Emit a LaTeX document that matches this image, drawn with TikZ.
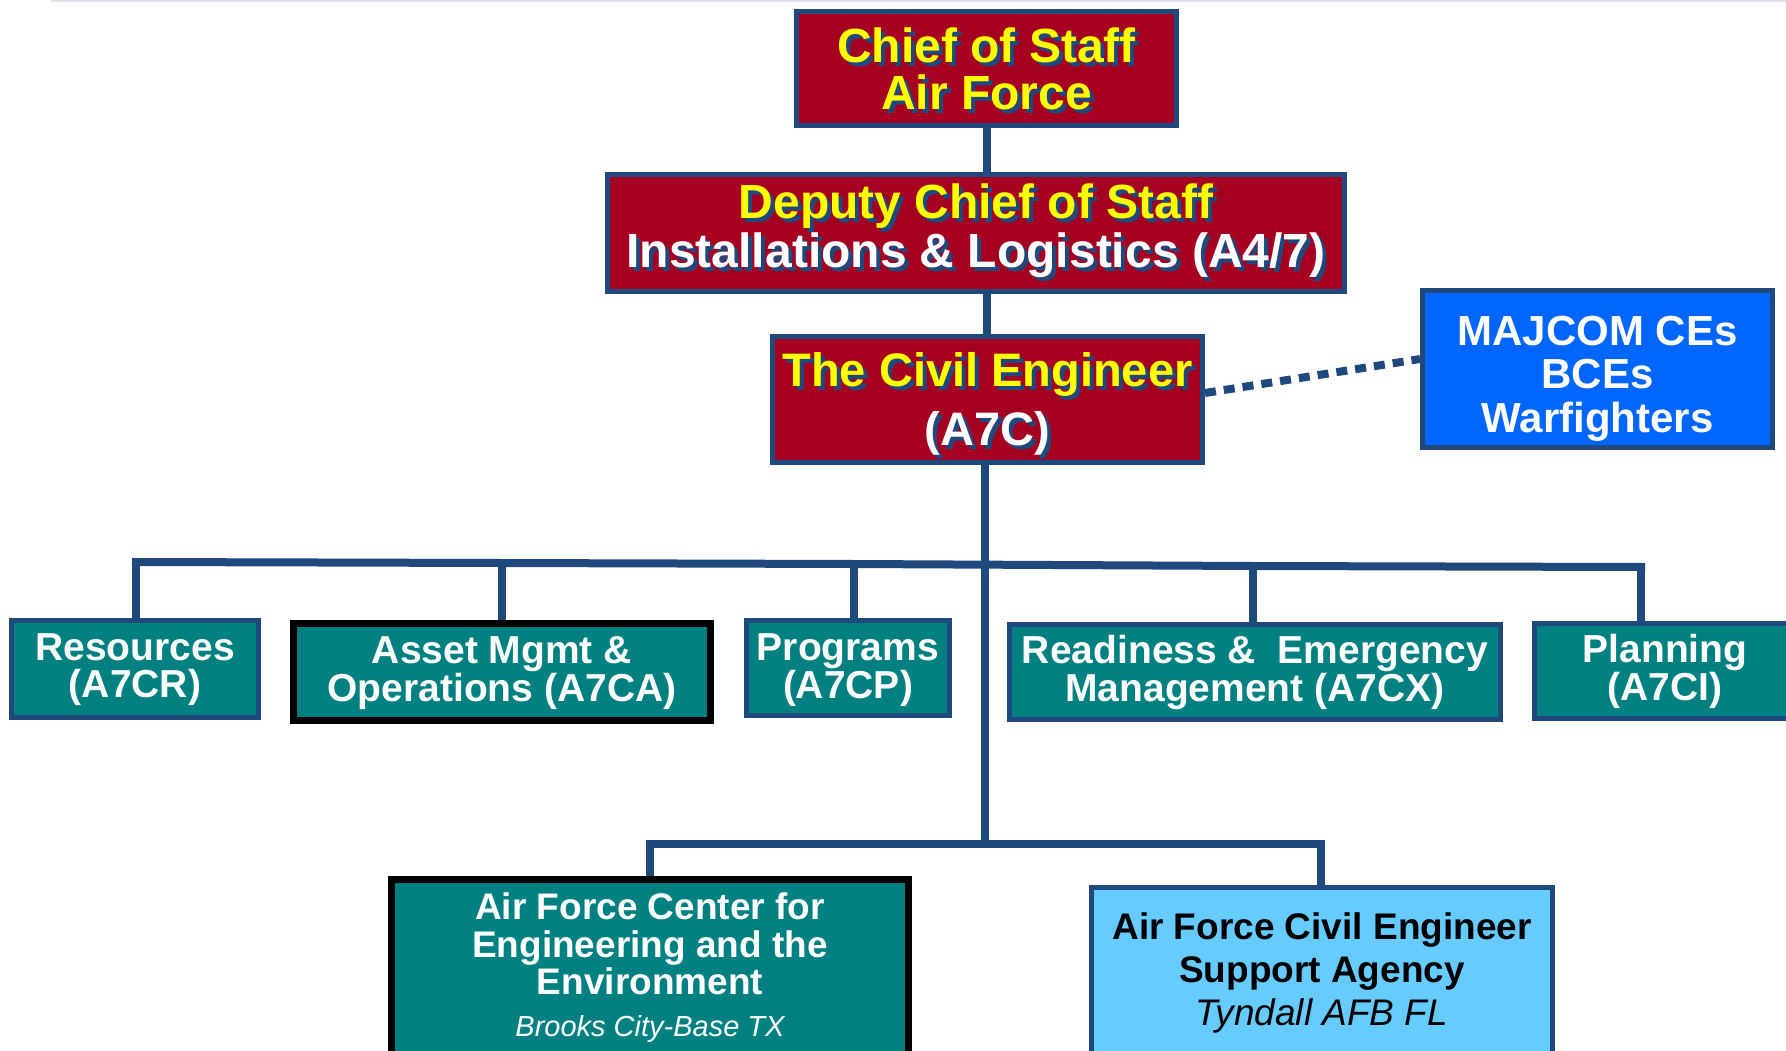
\documentclass[tikz,border=0pt]{standalone}
\usepackage{fontspec}
\setmainfont{Liberation Sans}
\definecolor{afnavy}{RGB}{31,73,125}
\definecolor{afred}{RGB}{165,0,33}
\definecolor{afteal}{RGB}{0,128,128}
\definecolor{afblue}{RGB}{0,102,255}
\definecolor{aflight}{RGB}{102,204,255}
\definecolor{afyellow}{RGB}{255,255,0}
\definecolor{afrule}{RGB}{221,227,238}
\newcommand{\shtext}[2]{\makebox[0pt][l]{\hspace{4pt}\raisebox{-4pt}{\textcolor{afnavy}{#2}}}\textcolor{#1}{#2}}
\begin{document}
\begin{tikzpicture}[x=1pt,y=-1pt,
  box/.style={draw=afnavy, line width=5pt, inner sep=0pt, align=center, text=white},
  redbox/.style={box, fill=afred},
  tealbox/.style={box, fill=afteal, font=\fontsize{39}{36.5}\selectfont\bfseries, text height=58pt, text depth=0pt},
  blackbox/.style={tealbox, draw=black, line width=7pt},
  link/.style={draw=afnavy, line width=8pt},
  dotlink/.style={draw=afnavy, line width=8pt, dash pattern=on 11pt off 8pt}]
\useasboundingbox (0,0) rectangle (1786,1051);
\clip (0,0) rectangle (1786,1051);
\fill[white] (0,0) rectangle (1786,1051);
\draw[afrule, line width=2pt] (51,1) -- (1786,1);

% top chain
\node[redbox, minimum width=380pt, minimum height=114pt, text height=83pt, text depth=0pt,
      font=\fontsize{48}{47}\selectfont\bfseries] (cos) at (986.5,68.5)
  {\shtext{afyellow}{Chief of Staff}\\\shtext{afyellow}{Air Force}};
\node[redbox, minimum width=737pt, minimum height=117pt, text height=70pt, text depth=0pt,
      font=\fontsize{48}{47}\selectfont\bfseries] (dcs) at (976,233)
  {\shtext{afyellow}{Deputy Chief of Staff}\\\shtext{white}{Installations \& Logistics (A4/7)}};
\node[redbox, minimum width=430pt, minimum height=126pt, text height=91pt, text depth=0pt,
      font=\fontsize{47}{59}\selectfont\bfseries] (civ) at (987.5,399.5)
  {\shtext{afyellow}{The Civil Engineer}\\\shtext{white}{(A7C)}};
\node[box, fill=afblue, minimum width=350pt, minimum height=157pt, text height=126pt, text depth=0pt,
      font=\fontsize{42}{43.5}\selectfont\bfseries] (maj) at (1597.5,369)
  {MAJCOM CEs\\BCEs\\Warfighters};

% level 2
\node[tealbox, minimum width=247pt, minimum height=97pt, text height=56pt] (res) at (135,669) {Resources\\(A7CR)};
\node[blackbox, minimum width=417pt, minimum height=97pt] (ast) at (502,672) {Asset Mgmt \&\\Operations (A7CA)};
\node[tealbox, minimum width=203pt, minimum height=95pt, text height=60pt] (prg) at (848,668) {Programs\\(A7CP)};
\node[tealbox, minimum width=491pt, minimum height=95pt, text height=59pt] (rdy) at (1255,672) {Readiness \& \ Emergency\\Management (A7CX)};
\node[tealbox, minimum width=261pt, minimum height=95pt] (pln) at (1665,671) {Planning\\(A7CI)};

% level 3
\node[blackbox, minimum width=517pt, minimum height=177pt, text height={}, text depth={},
      font=\fontsize{37}{37.5}\selectfont\bfseries] (cee) at (650,968)
  {Air Force Center for\\Engineering and the\\Environment\\[4.5pt]{\mdseries\itshape\fontsize{29}{37.5}\selectfont Brooks City-Base TX}};
\node[box, fill=aflight, text=black, minimum width=461pt, minimum height=170pt,
      font=\fontsize{37}{43}\selectfont\bfseries] (csa) at (1322,972.5)
  {Air Force Civil Engineer\\Support Agency\\{\mdseries\itshape Tyndall AFB FL}};

% connectors
\coordinate (bus) at (985,564);
\coordinate (lowbus) at (985,844);
\coordinate (dRes) at (136,562);
\coordinate (dAst) at (502,563);
\coordinate (dPrg) at (854,564);
\coordinate (dRdy) at (1253,566);
\coordinate (dPln) at (1641,567);
\coordinate (dCee) at (650,844);
\coordinate (dCsa) at (1321,844);

\draw[link] (cos.south) -- (cos.south |- dcs.north);
\draw[link] (civ.north -| cos.south) -- (dcs.south -| cos.south);
\draw[link] (civ.south -| lowbus) -- (lowbus);
\draw[link, line cap=rect] (dRes) -- (dAst) -- (dPrg) -- (dRdy) -- (dPln);
\draw[link] (dRes) -- (dRes |- res.north);
\draw[link] (dAst) -- (dAst |- ast.north);
\draw[link] (dPrg) -- (dPrg |- prg.north);
\draw[link] (dRdy) -- (dRdy |- rdy.north);
\draw[link] (dPln) -- (dPln |- pln.north);
\draw[link, line cap=rect] (dCee) -- (dCsa);
\draw[link] (dCee) -- (dCee |- cee.north);
\draw[link] (dCsa) -- (dCsa |- csa.north);
\draw[dotlink] ([yshift=6.5pt]civ.east) -- ([yshift=10pt]maj.west);
\end{tikzpicture}
\end{document}
